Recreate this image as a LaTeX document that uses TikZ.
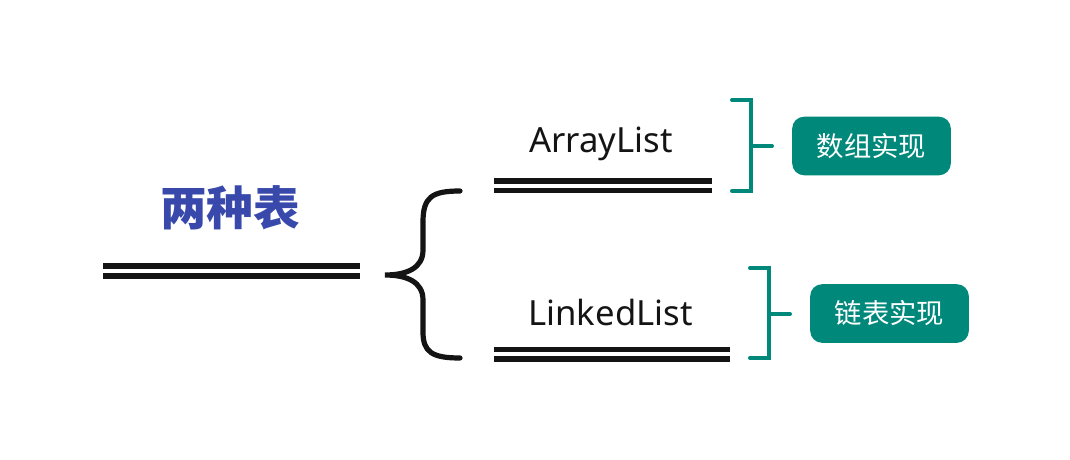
\documentclass[tikz,border=0pt]{standalone}
\usepackage{fontspec}
\setmainfont{Noto Sans}
\newfontfamily\cjk{Noto Sans CJK SC}
\definecolor{titleblue}{HTML}{3949AB}
\definecolor{teal}{HTML}{00897B}
\definecolor{ink}{HTML}{141414}
\begin{document}
\begin{tikzpicture}[x=0.75pt,y=-0.75pt,
  dline/.style={ink,line width=3.9pt},
  bracestyle/.style={ink,line width=3.9pt,line cap=round},
  bracket/.style={teal,line width=3pt,line cap=round,line join=miter},
  listlabel/.style={ink,font=\fontsize{26}{31}\selectfont,inner sep=0pt},
  implbox/.style={fill=teal,rounded corners=9pt,minimum width=119pt,minimum height=44pt,inner sep=0pt,text=white,font=\cjk\fontsize{20.5}{24}\selectfont},
  title/.style={titleblue,font=\cjk\bfseries\fontsize{35}{40}\selectfont,inner sep=0pt}]
\useasboundingbox (0,0) rectangle (1070,460);
% title
\node[title] (t) at (230,208) {两种表};
\draw[dline] (103,266) coordinate (ta1) -- (360,266) coordinate (tb1);
\draw[dline] (103,276) coordinate (ta2) -- (360,276) coordinate (tb2);
% brace
\draw[bracestyle] (460,191) .. controls (432,191) and (423,197) .. (423,222) -- (423,250)
  .. controls (423,268) and (407,275) .. (385,275)
  .. controls (407,275) and (423,282) .. (423,300) -- (423,332)
  .. controls (423,352) and (432,358) .. (460,358);
% ArrayList
\node[listlabel] (al) at (601,144) {ArrayList};
\draw[dline] (494,181) -- (712,181);
\draw[dline] (494,190.5) -- (712,190.5);
% LinkedList
\node[listlabel] (ll) at (610.5,312) {LinkedList};
\draw[dline] (494,349.5) -- (730,349.5);
\draw[dline] (494,359) -- (730,359);
% brackets
\draw[bracket] (732,100) -- (751,100) -- (751,191) -- (732,191);
\draw[bracket] (751,146) -- (772,146);
\draw[bracket] (750,268) -- (769,268) -- (769,358) -- (750,358);
\draw[bracket] (769,314) -- (790,314);
% boxes
\node[implbox] (b1) at (871.5,146) {数组实现};
\node[implbox] (b2) at (889.5,313.5) {链表实现};
\end{tikzpicture}
\end{document}
